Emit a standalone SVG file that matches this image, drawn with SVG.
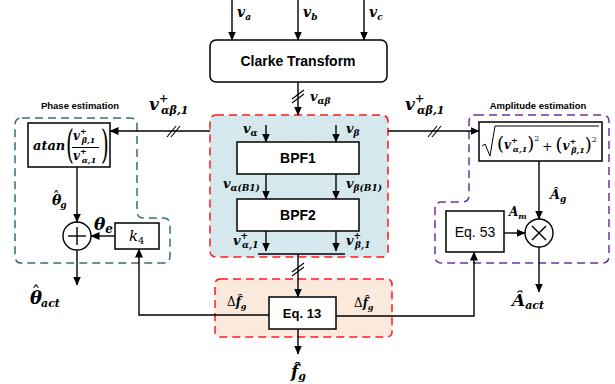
<svg xmlns="http://www.w3.org/2000/svg" width="615" height="384" viewBox="0 0 615 384">
  <style>
    .box { fill: #ffffff; stroke: #000; stroke-width: 1.5; }
    .wire { fill: none; stroke: #000; stroke-width: 1.4; }
    .arr { marker-end: url(#ah); }
    .slash { stroke: #000; stroke-width: 1.1; }
    .sans { font-family: "Liberation Sans", Arial, sans-serif; fill: #000; }
    .m { font-family: "DejaVu Serif", "Liberation Serif", serif; font-style: italic; font-weight: bold; fill: #000; }
    .up { font-family: "DejaVu Serif", "Liberation Serif", serif; font-style: normal; font-weight: normal; }
    .title { font-family: "Liberation Sans", Arial, sans-serif; font-weight: bold; font-size: 9.5px; }
  </style>
  <defs>
    <marker id="ah" markerWidth="9" markerHeight="8" refX="8.5" refY="4" orient="auto" markerUnits="userSpaceOnUse">
      <path d="M0,0 L9,4 L0,8 Z" fill="#000"/>
    </marker>
  </defs>

  <!-- grouping regions -->
  <g id="phase-region">
    <path d="M22,118 H130 Q137,118 137,125 V211 Q137,218 144,218 H163 Q170,218 170,225 V256 Q170,263 163,263 H22 Q15,263 15,256 V125 Q15,118 22,118 Z" fill="none" stroke="#2e6f80" stroke-width="1.5" stroke-dasharray="8,5"/>
    <text class="title" x="80" y="109" text-anchor="middle">Phase estimation</text>
  </g>
  <g id="amp-region">
    <path d="M476,115 H602 Q609,115 609,122 V256 Q609,263 602,263 H442 Q435,263 435,256 V209 Q435,202 442,202 H462 Q469,202 469,195 V122 Q469,115 476,115 Z" fill="none" stroke="#7030a0" stroke-width="1.5" stroke-dasharray="8,5"/>
    <text class="title" x="538" y="109" text-anchor="middle">Amplitude estimation</text>
  </g>
  <g id="bpf-region">
    <rect x="210" y="115" width="178" height="142" rx="6" fill="#d4e8ee" stroke="#ff1a1a" stroke-width="1.5" stroke-dasharray="8,5"/>
  </g>
  <g id="freq-region">
    <rect x="215" y="279" width="177" height="58" rx="5" fill="#fbe9dc" stroke="#ff1a1a" stroke-width="1.5" stroke-dasharray="8,5"/>
  </g>

  <!-- connectors -->
  <g id="connectors">
    <line class="wire arr" x1="232" y1="0" x2="232" y2="40"/>
    <line class="wire arr" x1="298" y1="0" x2="298" y2="40"/>
    <line class="wire arr" x1="364" y1="0" x2="364" y2="40"/>
    <line class="wire arr" x1="298" y1="82" x2="298" y2="115"/>
    <line class="slash" x1="292" y1="99" x2="304" y2="90"/>
    <line class="slash" x1="292" y1="103" x2="304" y2="94"/>

    <line class="wire arr" x1="266" y1="125" x2="266" y2="142"/>
    <line class="wire arr" x1="336" y1="125" x2="336" y2="142"/>
    <line class="wire arr" x1="266" y1="174" x2="266" y2="199"/>
    <line class="wire arr" x1="336" y1="174" x2="336" y2="199"/>
    <line class="wire arr" x1="266" y1="231" x2="266" y2="251"/>
    <line class="wire arr" x1="336" y1="231" x2="336" y2="251"/>
    <line class="wire" x1="258" y1="254" x2="345" y2="254"/>

    <line class="wire arr" x1="298" y1="254" x2="298" y2="297"/>
    <line class="slash" x1="292" y1="272" x2="304" y2="263"/>
    <line class="slash" x1="292" y1="276" x2="304" y2="267"/>

    <!-- positive-sequence signal to phase estimation -->
    <line class="wire arr" x1="210" y1="131" x2="110" y2="131"/>
    <line class="slash" x1="167" y1="137" x2="176" y2="126"/>
    <line class="slash" x1="171" y1="137" x2="180" y2="126"/>
    <!-- positive-sequence signal to amplitude estimation -->
    <line class="wire arr" x1="388" y1="131" x2="479" y2="131"/>
    <line class="slash" x1="428" y1="137" x2="437" y2="126"/>
    <line class="slash" x1="432" y1="137" x2="441" y2="126"/>

    <line class="wire arr" x1="77" y1="167" x2="77" y2="222"/>
    <line class="wire arr" x1="115" y1="236" x2="91" y2="236"/>
    <line class="wire arr" x1="77" y1="250" x2="77" y2="285"/>

    <line class="wire arr" x1="539" y1="161" x2="539" y2="219"/>
    <line class="wire arr" x1="504" y1="233" x2="525" y2="233"/>
    <line class="wire arr" x1="539" y1="247" x2="539" y2="292"/>

    <polyline class="wire arr" points="269,315 139,315 139,249"/>
    <polyline class="wire arr" points="336,316 474,316 474,252"/>
    <line class="wire arr" x1="298" y1="329" x2="298" y2="354"/>
  </g>

  <!-- nodes -->
  <g id="clarke">
    <rect class="box" x="210" y="40" width="177" height="42" rx="6"/>
    <text class="sans" x="298" y="66" font-size="14" font-weight="bold" text-anchor="middle">Clarke Transform</text>
  </g>
  <g id="bpf1">
    <rect class="box" x="237" y="142" width="122" height="32"/>
    <text class="sans" x="298" y="163" font-size="14" font-weight="bold" text-anchor="middle">BPF1</text>
  </g>
  <g id="bpf2">
    <rect class="box" x="237" y="199" width="122" height="32"/>
    <text class="sans" x="298" y="220" font-size="14" font-weight="bold" text-anchor="middle">BPF2</text>
  </g>
  <g id="atan">
    <rect class="box" x="28" y="123" width="82" height="44"/>
    <text class="m" x="33" y="150" font-size="13">atan</text>
    <text class="up" x="0" y="0" font-size="40" transform="translate(66,158) scale(0.5,1)">(</text>
    <text class="up" x="0" y="0" font-size="40" transform="translate(101,158) scale(0.5,1)">)</text>
    <text class="m" x="73" y="140" font-size="12">v<tspan font-size="8" dy="-6">+</tspan><tspan font-size="8" dx="-5" dy="9">β,1</tspan></text>
    <line x1="72" y1="147.5" x2="99" y2="147.5" stroke="#000" stroke-width="1"/>
    <text class="m" x="73" y="160" font-size="12">v<tspan font-size="8" dy="-6">+</tspan><tspan font-size="8" dx="-5" dy="9">α,1</tspan></text>
  </g>
  <g id="sum">
    <circle cx="77" cy="236" r="14" fill="#fff" stroke="#000" stroke-width="1.4"/>
    <line x1="68" y1="236" x2="86" y2="236" stroke="#000" stroke-width="1.4"/>
    <line x1="77" y1="227" x2="77" y2="245" stroke="#000" stroke-width="1.4"/>
  </g>
  <g id="k4">
    <rect class="box" x="115" y="223" width="44" height="26"/>
    <text x="129" y="241" font-family="'DejaVu Serif', serif" font-style="italic" font-size="15">k<tspan font-size="10" dy="3" font-style="normal">4</tspan></text>
  </g>
  <g id="sqrt">
    <rect class="box" x="479" y="122" width="123" height="39"/>
    <path d="M482,146 L485,144 L490,156 L495,126 H599" fill="none" stroke="#000" stroke-width="1"/>
    <text class="m" x="497" y="149" font-size="12"><tspan class="up" font-size="18" dy="1">(</tspan><tspan dy="-1">v</tspan><tspan font-size="8" dy="-6">+</tspan><tspan font-size="8" dx="-5" dy="9">α,1</tspan><tspan class="up" font-size="18" dy="-2">)</tspan><tspan class="up" font-size="8" dy="-9">2</tspan><tspan class="up" dy="10" dx="3">+</tspan><tspan class="up" font-size="18" dx="3">(</tspan><tspan dy="-1">v</tspan><tspan font-size="8" dy="-6">+</tspan><tspan font-size="8" dx="-5" dy="9">β,1</tspan><tspan class="up" font-size="18" dy="-2">)</tspan><tspan class="up" font-size="8" dy="-9">2</tspan></text>
  </g>
  <g id="mult">
    <circle cx="539" cy="233" r="14" fill="#fff" stroke="#000" stroke-width="1.4"/>
    <line x1="532" y1="226" x2="546" y2="240" stroke="#000" stroke-width="1.4"/>
    <line x1="546" y1="226" x2="532" y2="240" stroke="#000" stroke-width="1.4"/>
  </g>
  <g id="eq53">
    <rect class="box" x="446" y="211" width="58" height="41"/>
    <text class="sans" x="475" y="237" font-size="14" text-anchor="middle">Eq. 53</text>
  </g>
  <g id="eq13">
    <rect class="box" x="269" y="297" width="67" height="32"/>
    <text class="sans" x="302" y="318" font-size="13" font-weight="bold" text-anchor="middle">Eq. 13</text>
  </g>

  <!-- signal labels -->
  <g id="labels">
    <text class="m" x="237" y="17" font-size="14">v<tspan font-size="9" dy="3">a</tspan></text>
    <text class="m" x="303" y="17" font-size="14">v<tspan font-size="9" dy="3">b</tspan></text>
    <text class="m" x="369" y="17" font-size="14">v<tspan font-size="9" dy="3">c</tspan></text>
    <text class="m" x="310" y="101" font-size="13">v<tspan font-size="9" dy="3">αβ</tspan></text>

    <text class="m" x="243" y="133" font-size="13">v<tspan font-size="9" dy="3">α</tspan></text>
    <text class="m" x="346" y="133" font-size="13">v<tspan font-size="9" dy="3">β</tspan></text>
    <text class="m" x="223" y="188" font-size="13">v<tspan font-size="9" dy="3">α(B1)</tspan></text>
    <text class="m" x="346" y="188" font-size="13">v<tspan font-size="9" dy="3">β(B1)</tspan></text>
    <text class="m" x="233" y="245" font-size="13">v<tspan font-size="9" dy="-6">+</tspan><tspan font-size="9" dx="-6" dy="9">α,1</tspan></text>
    <text class="m" x="346" y="245" font-size="13">v<tspan font-size="9" dy="-6">+</tspan><tspan font-size="9" dx="-6" dy="9">β,1</tspan></text>

    <text class="m" x="149" y="110" font-size="17">v<tspan font-size="11" dy="-8">+</tspan><tspan font-size="11" dx="-7" dy="12">αβ,1</tspan></text>
    <text class="m" x="405" y="110" font-size="17">v<tspan font-size="11" dy="-8">+</tspan><tspan font-size="11" dx="-7" dy="12">αβ,1</tspan></text>

    <!-- estimated phase labels, circumflex set over the theta -->
    <text class="m" x="52" y="205" font-size="14">θ<tspan class="up" font-weight="bold" dx="-8.5" dy="-3">ˆ</tspan><tspan font-size="9" dx="0.5" dy="6">g</tspan></text>
    <text class="m" x="94" y="230" font-size="17">θ<tspan font-size="12" dy="3">e</tspan></text>
    <text class="m" x="30" y="304" font-size="18">θ<tspan class="up" font-weight="bold" dx="-10.5" dy="-4">ˆ</tspan><tspan font-size="11" dx="0.5" dy="7">act</tspan></text>

    <text class="m" x="550" y="199" font-size="13">Â<tspan font-size="9" dy="3">g</tspan></text>
    <text class="m" x="509" y="216" font-size="12">A<tspan font-size="8" dy="3">m</tspan></text>
    <text class="m" x="512" y="306" font-size="17">Â<tspan font-size="11" dy="3">act</tspan></text>

    <text class="m" x="227" y="306" font-size="12"><tspan class="up">Δ</tspan>f̂<tspan font-size="8" dy="3">g</tspan></text>
    <text class="m" x="354" y="307" font-size="12"><tspan class="up">Δ</tspan>f̂<tspan font-size="8" dy="3">g</tspan></text>
    <text class="m" x="291" y="377" font-size="17">f̂<tspan font-size="11" dy="3">g</tspan></text>
  </g>
</svg>
